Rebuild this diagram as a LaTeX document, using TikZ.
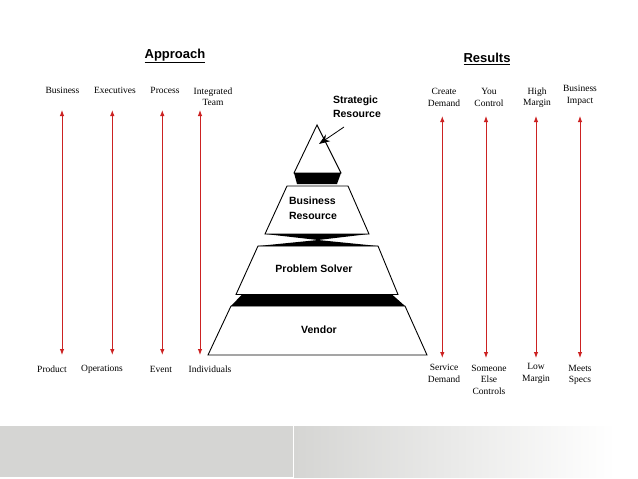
\documentclass[tikz,border=0pt]{standalone}
\usepackage{fontspec}
\setmainfont{Liberation Serif}
\setsansfont{Liberation Sans}
\usetikzlibrary{arrows.meta}
\definecolor{arrred}{RGB}{204,34,34}
\definecolor{bandgray}{RGB}{213,213,211}
\newcommand{\ulhead}[1]{\underline{#1}}
\begin{document}
\begin{tikzpicture}[x=1pt,y=-1pt,
 lbl/.style={font=\fontsize{9.5}{11.5}\selectfont, align=center, inner sep=0pt},
 head/.style={font=\sffamily\bfseries\fontsize{13}{15}\selectfont, inner sep=0pt},
 tier/.style={font=\sffamily\bfseries\fontsize{10.5}{14.5}\selectfont, align=left, inner sep=0pt},
 rarrow/.style={draw=arrred, line width=0.9pt, {Latex[length=6pt,width=4.5pt]}-{Latex[length=6pt,width=4.5pt]}},
 block/.style={draw=black, line width=0.9pt, fill=white},
 band/.style={fill=black},
]
\useasboundingbox (0,0) rectangle (638,479);
\fill[white] (0,0) rectangle (638,479);

% footer band
\fill[bandgray] (0,426) rectangle (293,477);
\shade[left color=bandgray, right color=white] (294,426) rectangle (615,477);

% headings
\node[head] (approach) at (175,56) {\ulhead{Approach}};
\node[head] (results) at (487,59) {\ulhead{Results}};

% approach labels
\node[lbl] (t1) at (62.5,90) {Business};
\node[lbl] (t2) at (115,90) {Executives};
\node[lbl] (t3) at (165,90) {Process};
\node[lbl] (t4) at (213,96.5) {Integrated\\Team};
\node[lbl] (b1) at (52,369) {Product};
\node[lbl] (b2) at (102,369) {Operations};
\node[lbl] (b3) at (161,369) {Event};
\node[lbl] (b4) at (210,369) {Individuals};

% results labels
\node[lbl] (r1) at (444,97.5) {Create\\Demand};
\node[lbl] (r2) at (489,97.5) {You\\Control};
\node[lbl] (r3) at (537,97.5) {High\\Margin};
\node[lbl] (r4) at (580,95.5) {Business\\Impact};
\node[lbl] (s1) at (444,373.5) {Service\\Demand};
\node[lbl] (s2) at (489,379.5) {Someone\\Else\\Controls};
\node[lbl] (s3) at (536,373.5) {Low\\Margin};
\node[lbl] (s4) at (580,375) {Meets\\Specs};

% arrow ends
\foreach \i/\x in {1/62,2/112.3,3/162.3,4/200}{
  \coordinate (at\i) at (\x,110);
  \coordinate (ab\i) at (\x,355);
  \draw[rarrow] (at\i) -- (ab\i);
}
\foreach \i/\x in {1/442.3,2/486,3/536,4/580}{
  \coordinate (rt\i) at (\x,116);
  \coordinate (rb\i) at (\x,358);
  \draw[rarrow] (rt\i) -- (rb\i);
}

% pyramid
\draw[block] (208,355) -- (231,306) -- (405,306) -- (427,355) -- cycle;
\draw[block] (236,294.5) -- (258,246) -- (378,246) -- (398,294.5) -- cycle;
\draw[block] (265,234) -- (287,186) -- (348,186) -- (369,234) -- cycle;
\draw[block] (294,173) -- (317,125) -- (341,173) -- cycle;

% black bands
\fill[band] (294,173) -- (341,173) -- (337,184) -- (297,184) -- cycle;
\fill[band] (265,234) -- (369,234) -- (318,240) -- cycle;
\fill[band] (258,246) -- (378,246) -- (318,240) -- cycle;
\fill[band] (242,294.5) -- (392,294.5) -- (405,306) -- (231,306) -- cycle;

% tier labels
\node[tier] (br) at (313,208) {Business\\Resource};
\node[tier] (ps) at (314,269) {Problem Solver};
\node[tier] (vd) at (319,330) {Vendor};
\node[tier] (sr) at (357,106.5) {Strategic\\Resource};

% strategic arrow
\coordinate (sa) at (344,127);
\coordinate (tip) at (319,144);
\draw[line width=0.8pt, -{Stealth[length=11pt,width=8pt]}] (sa) -- (tip);
\end{tikzpicture}
\end{document}
